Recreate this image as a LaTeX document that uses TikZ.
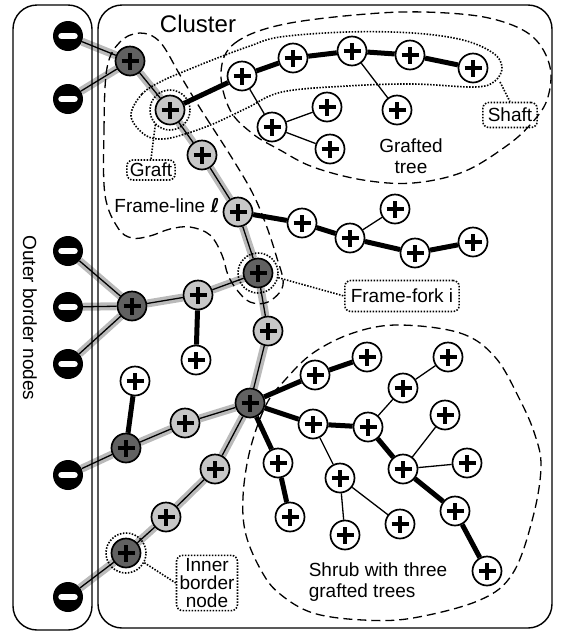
\documentclass[tikz,border=0pt]{standalone}
\usepackage{fontspec}
\setmainfont{Liberation Sans}
\newfontfamily\dejavu{DejaVu Sans}
\pgfdeclarelayer{edges}
\pgfsetlayers{edges,main}
\tikzset{
  panel/.style={line width=1.4pt, rounded corners=24pt},
  dashline/.style={line width=1.3pt, dash pattern=on 9pt off 5pt},
  dotline/.style={line width=1.6pt, dash pattern=on 1.5pt off 1.5pt},
  plussign/.style={path picture={\draw[line width=3.2pt,black]
      ([xshift=-8.5pt]path picture bounding box.center) -- ([xshift=8.5pt]path picture bounding box.center)
      ([yshift=-8.5pt]path picture bounding box.center) -- ([yshift=8.5pt]path picture bounding box.center);}},
  pnode/.style={circle, draw, line width=1.7pt, minimum size=29pt, inner sep=0pt, plussign},
  wnode/.style={pnode, fill=white},
  lnode/.style={pnode, fill=black!22},
  dnode/.style={pnode, fill=black!62},
  mnode/.style={circle, fill=black, minimum size=30pt, inner sep=0pt,
      path picture={\draw[line width=6.5pt, white, line cap=round]
      ([xshift=-6.5pt]path picture bounding box.center) -- ([xshift=6.5pt]path picture bounding box.center);}},
  ring/.style={circle, dotline, draw, minimum size=40pt, inner sep=0pt},
  labelbox/.style={draw, dotline, rounded corners=6pt, inner xsep=3pt, inner ysep=3pt},
  frameedge/.style={line width=1.3pt, black, preaction={draw, line width=8pt, black!27}},
  thickedge/.style={line width=5pt, black},
  thinedge/.style={line width=1.3pt, black},
  txt/.style={font=\fontsize{19}{21}\selectfont},
}
\begin{document}
\begin{tikzpicture}[x=1pt,y=-1pt]
\useasboundingbox (0,0) rectangle (561,633);
% panels
\draw[panel] (13,5) rectangle (92,630);
\draw[panel] (98,5) rectangle (552,628);
% regions
\draw[dashline] plot[smooth cycle, tension=0.6] coordinates {
 (105,195) (104,130) (107,68) (120,42) (140,33) (160,42) (180,75) (200,108) (232,158) (252,192)
 (265,222) (276,255) (283,285) (268,302) (250,302) (237,290) (228,275) (222,255) (210,235)
 (190,227) (170,229) (150,236) (132,238) (118,228)};
\draw[dashline] plot[smooth cycle, tension=0.6] coordinates {
 (221,72) (235,43) (285,24) (380,13) (447,13) (497,20) (533,37) (550,67) (547,100) (530,125)
 (505,147) (463,172) (413,183) (363,180) (313,167) (280,150) (253,134) (230,110)};
\draw[dotline] plot[smooth cycle, tension=0.6] coordinates {
 (131,116) (142,94) (162,81) (190,69) (220,57) (250,46) (280,37) (347,32) (413,33) (463,40)
 (493,53) (502,67) (495,81) (475,87) (413,84) (347,86) (282,92) (247,108) (213,124) (185,134)
 (163,139) (145,135)};
\draw[dashline] plot[smooth cycle, tension=0.6] coordinates {
 (398,325) (460,333) (495,357) (520,400) (535,435) (541,467) (533,517) (513,573) (480,600)
 (413,618) (363,620) (313,613) (280,594) (262,572) (246,535) (243,497) (250,450) (266,405)
 (285,380) (313,353) (353,333)};
% outer border nodes
\node[mnode] (m1) at (68,36) {};
\node[mnode] (m2) at (68,99) {};
\node[mnode] (m3) at (68,251) {};
\node[mnode] (m4) at (68,307) {};
\node[mnode] (m5) at (68,364) {};
\node[mnode] (m6) at (68,475) {};
\node[mnode] (m7) at (68,597) {};
% dark nodes
\node[dnode] (d1) at (130,61) {};
\node[dnode] (d2) at (132,306) {};
\node[dnode] (d3) at (258,273) {};
\node[dnode] (d4) at (250,403) {};
\node[dnode] (d5) at (126,448) {};
\node[dnode] (d6) at (126,553) {};
% light nodes
\node[lnode] (g1) at (170,110) {};
\node[lnode] (g2) at (202,155) {};
\node[lnode] (g3) at (238,212) {};
\node[lnode] (g4) at (198,295) {};
\node[lnode] (g5) at (268,331) {};
\node[lnode] (g6) at (185,423) {};
\node[lnode] (g7) at (215,469) {};
\node[lnode] (g8) at (166,517) {};
% white nodes
\node[wnode] (w1) at (242,76) {};
\node[wnode] (w2) at (293,58) {};
\node[wnode] (w3) at (352,51) {};
\node[wnode] (w4) at (410,55) {};
\node[wnode] (w5) at (473,68) {};
\node[wnode] (w6) at (397,110) {};
\node[wnode] (w7) at (272,127) {};
\node[wnode] (w8) at (327,107) {};
\node[wnode] (w9) at (330,149) {};
\node[wnode] (w10) at (302,223) {};
\node[wnode] (w11) at (350,238) {};
\node[wnode] (w12) at (395,209) {};
\node[wnode] (w13) at (415,253) {};
\node[wnode] (w14) at (473,242) {};
\node[wnode] (w15) at (196,360) {};
\node[wnode] (w16) at (135,381) {};
\node[wnode] (s1) at (315,375) {};
\node[wnode] (s2) at (313,424) {};
\node[wnode] (s3) at (278,463) {};
\node[wnode] (s4) at (290,517) {};
\node[wnode] (s5) at (367,357) {};
\node[wnode] (s6) at (368,427) {};
\node[wnode] (s7) at (403,388) {};
\node[wnode] (s8) at (448,357) {};
\node[wnode] (s9) at (403,469) {};
\node[wnode] (s10) at (445,415) {};
\node[wnode] (s11) at (467,463) {};
\node[wnode] (s12) at (455,511) {};
\node[wnode] (s13) at (487,571) {};
\node[wnode] (s14) at (340,478) {};
\node[wnode] (s15) at (345,535) {};
\node[wnode] (s16) at (400,524) {};
% rings
\node[ring] (g1ring) at (g1) {};
\node[ring] (d3ring) at (d3) {};
\node[ring] (d6ring) at (d6) {};
% labels
\node[txt, font=\fontsize{24}{28}\selectfont] (clusterlbl) at (198,24) {Cluster};
\node[txt, rotate=-90] (outerlbl) at (30,318) {Outer border nodes};
\node[txt, align=center] (graftedlbl) at (411,156) {Grafted\\tree};
\node[txt, align=left] (shrublbl) at (378,582) {Shrub with three\\grafted trees};
\node[txt] (framelinelbl) at (167,206) {Frame-line {\dejavu\bfseries ℓ}};
\node[txt, labelbox] (graftbox) at (151,170) {Graft};
\node[txt, labelbox, minimum height=31pt, inner xsep=6pt] (ffbox) at (402,296) {Frame-fork i};
\node[txt, labelbox, minimum height=25pt, inner xsep=5pt] (shaftbox) at (510,115) {Shaft};
\node[txt, labelbox, align=center, font=\fontsize{19}{18}\selectfont] (ibbox) at (207,583) {Inner\\border\\node};
\coordinate (shaftend) at (500,82);
\draw[dotline] (g1ring.225) -- (graftbox.north);
\draw[dotline] (d3ring.-13) -- (ffbox.west);
\draw[dotline] (d6ring.-28) -- (ibbox.west);
\draw[dotline] (shaftend) -- (shaftbox.north);
% edges
\begin{pgfonlayer}{edges}
\foreach \a/\b in {m1/d1, m2/d1, d1/g1, g1/g2, g2/g3, g3/d3, d3/g5, g5/d4, d3/g4, g4/d2,
  d2/m3, d2/m4, d2/m5, d4/g6, g6/d5, d5/m6, d4/g7, g7/g8, g8/d6, d6/m7}
  \draw[frameedge] (\a) -- (\b);
\foreach \a/\b in {g1/w1, w1/w2, w2/w3, w3/w4, w4/w5, g3/w10, w10/w11, w11/w13, w13/w14,
  g4/w15, d5/w16, d4/s1, d4/s2, d4/s3, s3/s4, s1/s5, s2/s6, s6/s9, s9/s12, s12/s13}
  \draw[thickedge] (\a) -- (\b);
\foreach \a/\b in {w1/w7, w7/w8, w7/w9, w3/w6, w11/w12, s6/s7, s7/s8, s9/s10, s9/s11,
  s2/s14, s14/s15, s14/s16}
  \draw[thinedge] (\a) -- (\b);
\end{pgfonlayer}
\end{tikzpicture}
\end{document}
